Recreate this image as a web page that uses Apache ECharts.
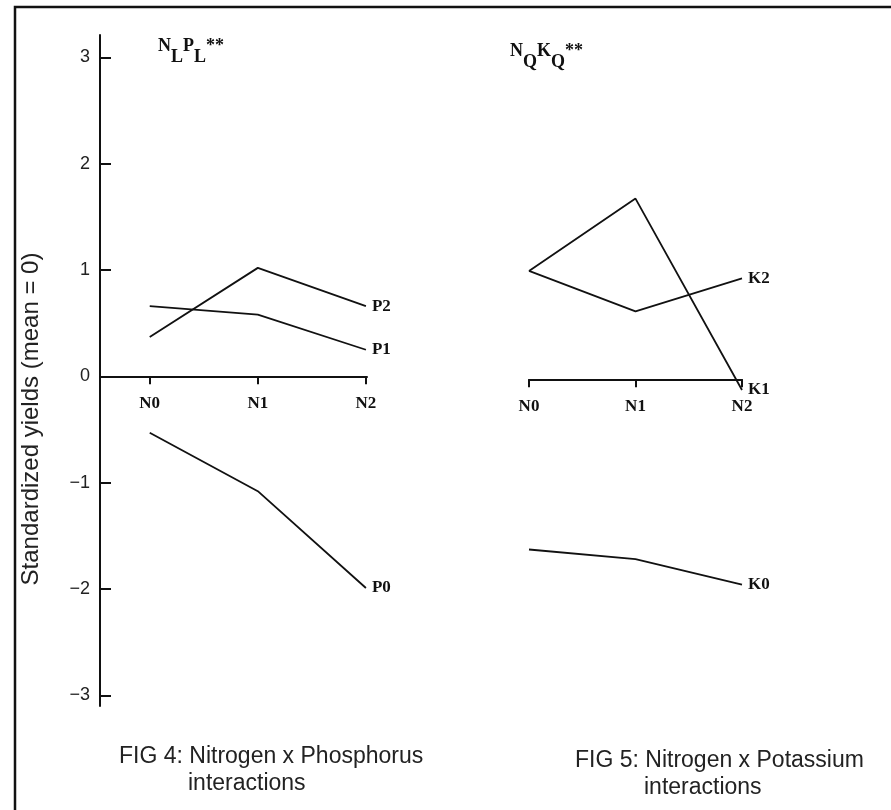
<!DOCTYPE html>
<html>
<head>
<meta charset="utf-8">
<title>Nitrogen interactions</title>
<script src="https://cdn.jsdelivr.net/npm/echarts@6/dist/echarts.min.js"></script>
<style>
  html, body { margin: 0; padding: 0; background: #fff; }
  #chart { width: 891px; height: 810px; }
</style>
</head>
<body>
<div id="chart"></div>
<script>
// nitrogen levels on the x axis
const levels = ['N0', 'N1', 'N2']
const yTicks = [-3, -2, -1, 0, 1, 2, 3]

// FIG 4: nitrogen x phosphorus
const p0 = [-0.53, -1.08, -1.99]
const p1 = [0.66, 0.58, 0.25]
const p2 = [0.37, 1.02, 0.66]

// FIG 5: nitrogen x potassium
const k0 = [-1.60, -1.69, -1.93]
const k1 = [1.02, 1.70, -0.10]
const k2 = [1.02, 0.64, 0.95]

const serif = 'Liberation Serif'
const sans = 'Liberation Sans'
const ink = '#111'

// y range shared by both panels
const yMin = -3.1
const yMax = 3.21
const plotH = 671
// the level axis is drawn in its own grid whose bottom sits on y = 0
const zeroH = plotH * yMax / (yMax - yMin)

function toPoints(vals) {
  return vals.map((v, i) => [i, v])
}

function lineSeries(name, vals, idx) {
  return {
    name: name,
    type: 'line',
    xAxisIndex: idx,
    yAxisIndex: idx,
    data: toPoints(vals),
    symbol: 'none',
    clip: false,
    lineStyle: { color: ink, width: 1.8 },
    endLabel: {
      show: true,
      formatter: '{a}',
      distance: 6,
      fontFamily: serif,
      fontWeight: 'bold',
      fontSize: 17,
      color: ink
    }
  }
}

// hidden x axis that places the lines
function dataX(idx, min, max) {
  return { type: 'value', gridIndex: idx, min: min, max: max, show: false }
}

// visible level axis N0 N1 N2
function levelX(idx, min, max) {
  return {
    type: 'value',
    gridIndex: idx,
    min: min,
    max: max,
    axisLine: { onZero: false, lineStyle: { color: ink, width: 2 } },
    axisTick: { customValues: [0, 1, 2], length: 8, lineStyle: { color: ink, width: 2 } },
    axisLabel: {
      customValues: [0, 1, 2],
      formatter: v => levels[v],
      margin: 19,
      fontFamily: serif,
      fontWeight: 'bold',
      fontSize: 17,
      color: ink
    },
    splitLine: { show: false }
  }
}

function dataY(idx, visible) {
  return {
    type: 'value',
    gridIndex: idx,
    show: visible,
    min: yMin,
    max: yMax,
    axisLine: { show: true, onZero: false, lineStyle: { color: ink, width: 2 } },
    axisTick: { show: true, inside: true, length: 11, customValues: yTicks, lineStyle: { color: ink, width: 2 } },
    axisLabel: {
      customValues: yTicks,
      formatter: v => (v < 0 ? '\u2212' + Math.abs(v) : String(v)),
      margin: 10,
      fontFamily: sans,
      fontSize: 18,
      color: '#222'
    },
    splitLine: { show: false }
  }
}

function blankY(idx) {
  return { type: 'value', gridIndex: idx, show: false, min: 0, max: 1 }
}

const subRich = {
  n: { fontFamily: serif, fontWeight: 'bold', fontSize: 18, color: ink, verticalAlign: 'bottom', padding: [0, 0, 11, 0] },
  s: { fontFamily: serif, fontWeight: 'bold', fontSize: 18, color: ink, verticalAlign: 'bottom' }
}

const captionStyle = { fontFamily: sans, fontSize: 23, fontWeight: 'normal', color: '#222' }

const chart = echarts.init(document.getElementById('chart'))
chart.setOption({
  animation: false,
  backgroundColor: '#fff',
  title: [
    { text: '{n|N}{s|L}{n|P}{s|L}{n|**}', left: 153, top: 32, textStyle: { rich: subRich } },
    { text: '{n|N}{s|Q}{n|K}{s|Q}{n|**}', left: 505, top: 37, textStyle: { rich: subRich } },
    { text: 'FIG 4: Nitrogen x Phosphorus', left: 114, top: 740, textStyle: captionStyle },
    { text: 'interactions', left: 183, top: 767, textStyle: captionStyle },
    { text: 'FIG 5: Nitrogen x Potassium', left: 570, top: 744, textStyle: captionStyle },
    { text: 'interactions', left: 639, top: 771, textStyle: captionStyle }
  ],
  grid: [
    { left: 100, top: 35, width: 267, height: plotH },
    { left: 529, top: 38, width: 213, height: plotH },
    { left: 100, top: 35, width: 267, height: zeroH },
    { left: 529, top: 38, width: 213, height: zeroH }
  ],
  xAxis: [dataX(0, -0.46, 2.01), dataX(1, 0, 2), levelX(2, -0.46, 2.01), levelX(3, 0, 2)],
  yAxis: [dataY(0, true), dataY(1, false), blankY(2), blankY(3)],
  series: [
    lineSeries('P2', p2, 0),
    lineSeries('P1', p1, 0),
    lineSeries('P0', p0, 0),
    lineSeries('K2', k2, 1),
    lineSeries('K1', k1, 1),
    lineSeries('K0', k0, 1)
  ],
  graphic: [
    // frame of the scanned page
    {
      type: 'polyline',
      shape: { points: [[15, 810], [15, 7], [891, 7]] },
      style: { stroke: ink, lineWidth: 2.5, fill: null }
    },
    {
      type: 'text',
      x: 31,
      y: 419,
      rotation: Math.PI / 2,
      style: {
        text: 'Standardized yields (mean = 0)',
        fontFamily: sans,
        fontSize: 24,
        fill: '#222',
        align: 'center',
        verticalAlign: 'middle'
      }
    }
  ]
})
</script>
</body>
</html>
